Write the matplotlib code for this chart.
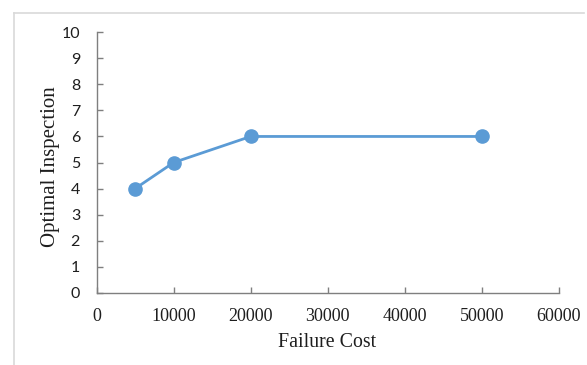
import matplotlib
matplotlib.use("Agg")
import matplotlib.pyplot as plt
from matplotlib.lines import Line2D

failure_cost = [5000, 10000, 20000, 50000]
optimal_inspection = [4, 5, 6, 6]
x_ticks = [0, 10000, 20000, 30000, 40000, 50000, 60000]
y_ticks = list(range(0, 11))

W, H = 587, 365
fig = plt.figure(figsize=(W / 100, H / 100), dpi=100)
ax = fig.add_axes([96.7 / W, 1 - 292.7 / H, (558.7 - 96.7) / W, (292.7 - 32.3) / H])

blue = "#5B9BD5"
ax.plot(failure_cost, optimal_inspection, color=blue, linewidth=2.0,
        marker="o", markersize=9.5, markerfacecolor=blue, markeredgecolor=blue,
        solid_capstyle="round", clip_on=False, zorder=3)

ax.set_xlim(0, 60000)
ax.set_ylim(0, 10)
ax.set_xticks(x_ticks)
ax.set_yticks(y_ticks)
ax.set_xticklabels([str(v) for v in x_ticks], family="Liberation Serif", fontsize=13)
ax.set_yticklabels([str(v) for v in y_ticks], family="Lato", fontsize=11.5)

for side in ("top", "right"):
    ax.spines[side].set_visible(False)
for side in ("left", "bottom"):
    ax.spines[side].set_color("#7f7f7f")
    ax.spines[side].set_linewidth(1.0)

ax.tick_params(axis="both", direction="in", length=4, width=1.0, color="#7f7f7f",
               labelcolor="#1e1e1e")
ax.tick_params(axis="y", pad=12)
ax.tick_params(axis="x", pad=11)

ax.set_xlabel("Failure Cost", family="Liberation Serif", fontsize=14.3, color="#1e1e1e")
ax.set_ylabel("Optimal Inspection", family="Liberation Serif", fontsize=15,
              color="#1e1e1e")
ax.xaxis.set_label_coords(0.4996, -0.153)
ax.yaxis.set_label_coords(-0.08, 0.485)

# light chart-area frame along the top and left edges
border = "#d9d9d9"
fig.add_artist(Line2D([13.5 / W, 584 / W], [1 - 12.5 / H, 1 - 12.5 / H],
                      transform=fig.transFigure, color=border, linewidth=1.2))
fig.add_artist(Line2D([13.5 / W, 13.5 / W], [1 - 12.5 / H, 0],
                      transform=fig.transFigure, color=border, linewidth=1.2))

fig.savefig("out.png", dpi=100, facecolor="white")
